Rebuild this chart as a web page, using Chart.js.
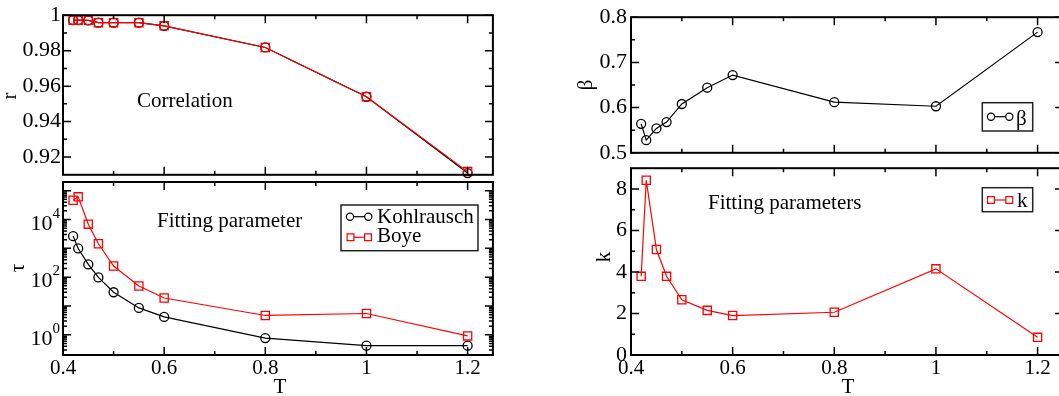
<!DOCTYPE html>
<html><head><meta charset="utf-8">
<script src="https://cdn.jsdelivr.net/npm/chart.js@4.4.1/dist/chart.umd.min.js"></script>
<style>
html,body{margin:0;padding:0;background:#fff;width:1059px;height:396px;overflow:hidden;position:relative;}
canvas{position:absolute;}
</style></head><body>
<canvas id="cR" width="500" height="190" style="left:0;top:0;width:500px;height:190px"></canvas>
<canvas id="cTau" width="500" height="224" style="left:0;top:172px;width:500px;height:224px"></canvas>
<canvas id="cBeta" width="540" height="170" style="left:540px;top:0;width:540px;height:170px"></canvas>
<canvas id="cK" width="540" height="245" style="left:540px;top:151px;width:540px;height:245px"></canvas>
<script>
// ---- data ----
const T = [0.42, 0.43, 0.45, 0.47, 0.5, 0.55, 0.6, 0.8, 1.0, 1.2];
const rKohlrausch = [0.9972, 0.9972, 0.9971, 0.9958, 0.9958, 0.9958, 0.9940, 0.9818, 0.9540, 0.9110];
const rBoye       = [0.9972, 0.9972, 0.9971, 0.9958, 0.9958, 0.9958, 0.9940, 0.9818, 0.9540, 0.9118];
const tauKohlrausch = [2650, 990, 278, 98, 30, 8.6, 4.2, 0.77, 0.42, 0.42];
const tauBoye       = [46600, 61000, 6900, 1440, 244, 49.6, 19, 4.7, 5.5, 0.92];
const beta = [0.564, 0.528, 0.554, 0.568, 0.608, 0.644, 0.672, 0.612, 0.603, 0.767];
const kBoye = [3.79, 8.42, 5.08, 3.79, 2.66, 2.15, 1.90, 2.06, 4.15, 0.85];

// ---- tick labels ----
const xTickValues = [0.4, 0.6, 0.8, 1.0, 1.2];
const xTickLabels = ['0.4', '0.6', '0.8', '1', '1.2'];
const xMinorValues = [0.5, 0.7, 0.9, 1.1];
const rTickValues = [0.92, 0.94, 0.96, 0.98, 1.0];
const rTickLabels = ['0.92', '0.94', '0.96', '0.98', '1'];
const rMinorValues = [0.93, 0.95, 0.97, 0.99];
const tauLabelValues = [1, 100, 10000];
const tauLabelExp = ['0', '2', '4'];
const betaTickValues = [0.5, 0.6, 0.7, 0.8];
const betaTickLabels = ['0.5', '0.6', '0.7', '0.8'];
const betaMinorValues = [0.55, 0.65, 0.75];
const kTickValues = [0, 2, 4, 6, 8];
const kTickLabels = ['0', '2', '4', '6', '8'];
const kMinorValues = [1, 3, 5, 7];

const FONT = '"Liberation Serif", "Times New Roman", serif';
const RED = '#ff0000', BLACK = '#000000';

const pts = (ys) => T.map((t, i) => ({x: t, y: ys[i]}));

// log ticks
const tauMajor = [1, 10, 100, 1000, 10000, 100000];
const tauMinor = [];
[0.1, 1, 10, 100, 1000, 10000].forEach(d => { for (let m = 2; m <= 9; m++) { const v = m * d; if (v > 0.2 && v < 2e5) tauMinor.push(v); } });

const decoPlugin = {
  id: 'deco',
  afterDraw(chart, args, o) {
    const ctx = chart.ctx, a = chart.chartArea;
    const xs = chart.scales.x, ys = chart.scales.y;
    const [ox, oy] = o.offset;
    ctx.save();
    ctx.strokeStyle = BLACK;
    ctx.lineWidth = 1.5;
    const xt = (vals, len) => vals.forEach(v => {
      const p = xs.getPixelForValue(v);
      ctx.beginPath();
      ctx.moveTo(p, a.bottom); ctx.lineTo(p, a.bottom - len);
      ctx.moveTo(p, a.top); ctx.lineTo(p, a.top + len);
      ctx.stroke();
    });
    const yt = (vals, len) => vals.forEach(v => {
      const p = ys.getPixelForValue(v);
      ctx.beginPath();
      ctx.moveTo(a.left, p); ctx.lineTo(a.left + len, p);
      ctx.moveTo(a.right, p); ctx.lineTo(a.right - len, p);
      ctx.stroke();
    });
    xt(o.xMajor, 8); xt(o.xMinor, 4);
    yt(o.yMajor, 8); yt(o.yMinor, 4);
    ctx.lineWidth = 2;
    ctx.strokeRect(a.left, a.top, a.right - a.left, a.bottom - a.top);

    ctx.fillStyle = BLACK;
    // log labels
    if (o.logLabels) {
      o.logLabels.values.forEach((v, i) => {
        const p = ys.getPixelForValue(v);
        ctx.textAlign = 'right';
        ctx.textBaseline = 'alphabetic';
        ctx.font = '15px ' + FONT;
        const ew = ctx.measureText(o.logLabels.exps[i]).width;
        ctx.fillText(o.logLabels.exps[i], a.left - 3, p - 2);
        ctx.font = '22px ' + FONT;
        ctx.fillText('10', a.left - 3 - ew, p + 10);
      });
    }
    // texts
    (o.texts || []).forEach(t => {
      ctx.save();
      ctx.font = (t.size || 21) + 'px ' + FONT;
      ctx.textAlign = t.align || 'left';
      ctx.textBaseline = t.baseline || 'alphabetic';
      ctx.translate(t.x - ox, t.y - oy);
      if (t.rot) ctx.rotate(t.rot);
      ctx.fillText(t.text, 0, 0);
      ctx.restore();
    });
    // legend
    if (o.legend) {
      const L = o.legend;
      ctx.lineWidth = 1.5;
      ctx.strokeStyle = '#222';
      ctx.strokeRect(L.box[0] - ox, L.box[1] - oy, L.box[2] - L.box[0], L.box[3] - L.box[1]);
      L.items.forEach(it => {
        const y = it.y - oy, x1 = it.x1 - ox, x2 = it.x2 - ox;
        ctx.strokeStyle = it.color; ctx.lineWidth = 1.2;
        ctx.beginPath(); ctx.moveTo(x1, y); ctx.lineTo(x2, y); ctx.stroke();
        [x1, x2].forEach(x => {
          ctx.beginPath();
          if (it.style === 'circle') ctx.arc(x, y, 3.6, 0, Math.PI * 2);
          else ctx.rect(x - 3.4, y - 3.4, 6.8, 6.8);
          ctx.fillStyle = '#fff'; ctx.fill();
          ctx.stroke();
        });
        ctx.fillStyle = BLACK;
        ctx.font = '21px ' + FONT;
        ctx.textAlign = 'left'; ctx.textBaseline = 'alphabetic';
        ctx.fillText(it.label, it.lx - ox, it.ly - oy);
      });
    }
    ctx.restore();
  }
};

function ds(label, ys, color, style, order) {
  return {
    label, data: pts(ys), showLine: true, borderColor: color, borderWidth: 1.2,
    pointStyle: style, pointRadius: style === 'circle' ? 4.5 : 5.8, pointBorderWidth: 1.3,
    pointBorderColor: color, pointBackgroundColor: 'rgba(0,0,0,0)', clip: false, tension: 0, order
  };
}

function xAxis(visible) {
  if (!visible) return {type: 'linear', min: 0.4, max: 1.25, display: false};
  return {
    type: 'linear', min: 0.4, max: 1.25, position: 'bottom',
    grid: {display: false, drawTicks: false}, border: {display: false},
    afterBuildTicks: s => { s.ticks = xTickValues.map(v => ({value: v})); },
    afterFit: s => { s.height = 41; },
    ticks: {padding: 1, color: BLACK, font: {family: FONT, size: 21}, maxRotation: 0, autoSkip: false,
            callback: (v, i) => xTickLabels[i]}
  };
}
function yAxis(min, max, vals, labels, width, pad) {
  return {
    type: 'linear', min, max, position: 'left',
    grid: {display: false, drawTicks: false}, border: {display: false},
    afterBuildTicks: s => { s.ticks = vals.map(v => ({value: v})); },
    afterFit: s => { s.width = width; },
    ticks: {padding: pad, color: BLACK, font: {family: FONT, size: 22}, autoSkip: false,
            callback: (v, i) => labels[i]}
  };
}
function make(id, datasets, x, y, padding, deco) {
  return new Chart(document.getElementById(id), {
    type: 'scatter',
    data: {datasets},
    options: {
      responsive: false, animation: false, devicePixelRatio: 1,
      layout: {padding},
      plugins: {legend: {display: false}, tooltip: {enabled: false}, deco},
      scales: {x, y}
    },
    plugins: [decoPlugin]
  });
}

// Top-left: r
make('cR',
  [ds('Kohlrausch', rKohlrausch, BLACK, 'circle', 1), ds('Boye', rBoye, RED, 'rect', 0)],
  xAxis(false), yAxis(0.91, 1.0, rTickValues, rTickLabels, 63, 2),
  {left: 0, top: 9, right: 6, bottom: 8},
  {offset: [0, 0], xMajor: xTickValues, xMinor: xMinorValues, yMajor: rTickValues, yMinor: rMinorValues,
   texts: [
     {text: 'r', x: 16, y: 96, rot: -Math.PI / 2, align: 'center'},
     {text: 'Correlation', x: 137, y: 107}
   ]});

// Bottom-left: tau
make('cTau',
  [ds('Kohlrausch', tauKohlrausch, BLACK, 'circle', 1), ds('Boye', tauBoye, RED, 'rect', 0)],
  xAxis(true),
  {type: 'logarithmic', min: 0.2, max: 2e5, position: 'left',
   grid: {display: false, drawTicks: false}, border: {display: false},
   afterBuildTicks: s => { s.ticks = tauLabelValues.map(v => ({value: v})); },
   afterFit: s => { s.width = 63; }, ticks: {display: false}},
  {left: 0, top: 10, right: 6, bottom: 0},
  {offset: [0, 172], xMajor: xTickValues, xMinor: xMinorValues, yMajor: tauMajor, yMinor: tauMinor,
   logLabels: {values: tauLabelValues, exps: tauLabelExp},
   texts: [
     {text: 'τ', x: 24, y: 268, rot: -Math.PI / 2, align: 'center'},
     {text: 'Fitting parameter', x: 157, y: 227},
     {text: 'T', x: 280, y: 393, align: 'center'}
   ],
   legend: {box: [341, 205, 478, 250.7], items: [
     {style: 'circle', color: BLACK, x1: 350, x2: 368.3, y: 216.7, label: 'Kohlrausch', lx: 377, ly: 223},
     {style: 'rect', color: RED, x1: 350.5, x2: 368, y: 237.3, label: 'Boye', lx: 377, ly: 242}
   ]}});

// Top-right: beta
make('cBeta',
  [ds('β', beta, BLACK, 'circle', 0)],
  xAxis(false), yAxis(0.5, 0.8, betaTickValues, betaTickLabels, 91, 4),
  {left: 0, top: 9, right: 17, bottom: 9},
  {offset: [540, 0], xMajor: xTickValues, xMinor: xMinorValues, yMajor: betaTickValues, yMinor: betaMinorValues,
   texts: [
     {text: 'β', x: 592, y: 85, rot: -Math.PI / 2, align: 'center'}
   ],
   legend: {box: [982.3, 102.7, 1032.7, 131], items: [
     {style: 'circle', color: BLACK, x1: 991, x2: 1009.3, y: 116.7, label: 'β', lx: 1016, ly: 125}
   ]}});

// Bottom-right: k
make('cK',
  [ds('k', kBoye, RED, 'rect', 0)],
  xAxis(true), yAxis(0, 9, kTickValues, kTickLabels, 91, 4),
  {left: 0, top: 10, right: 17, bottom: 0},
  {offset: [540, 151], xMajor: xTickValues, xMinor: xMinorValues, yMajor: kTickValues, yMinor: kMinorValues,
   texts: [
     {text: 'k', x: 610, y: 257, rot: -Math.PI / 2, align: 'center'},
     {text: 'Fitting parameters', x: 708, y: 209},
     {text: 'T', x: 848, y: 393, align: 'center'}
   ],
   legend: {box: [982.3, 187.7, 1032.7, 211.7], items: [
     {style: 'rect', color: RED, x1: 991, x2: 1009.3, y: 200, label: 'k', lx: 1017, ly: 207}
   ]}});
</script>
</body></html>
